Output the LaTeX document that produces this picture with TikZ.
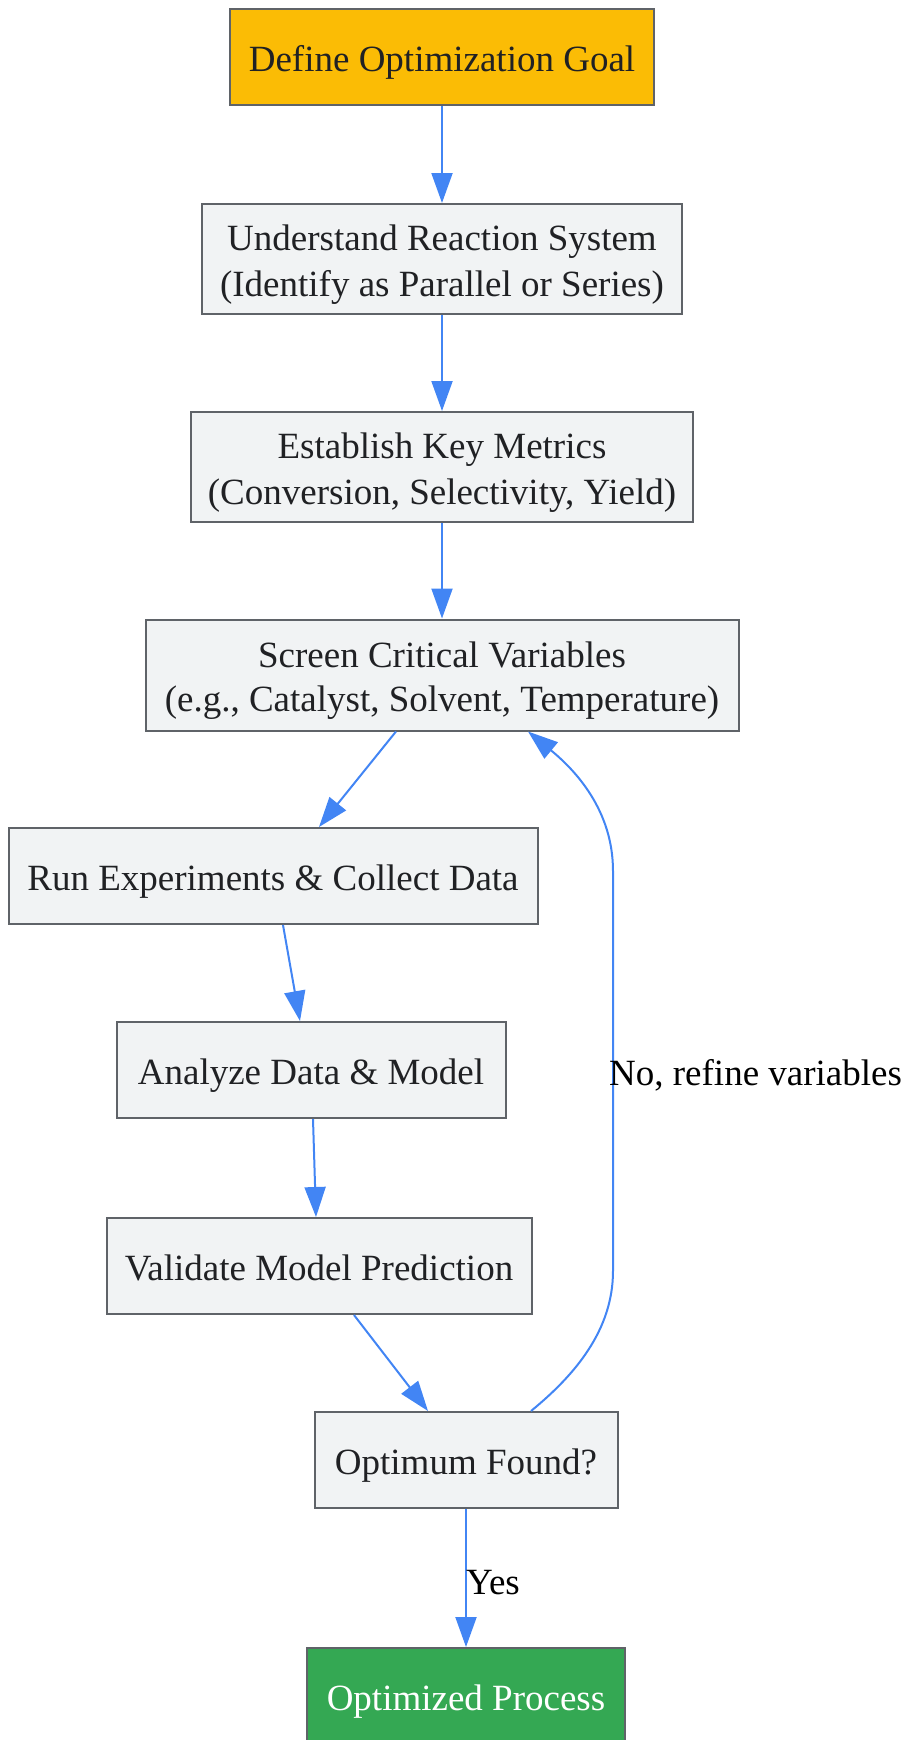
\documentclass[tikz,border=0pt]{standalone}
\usepackage{fontspec}
\setmainfont{Liberation Serif}
\usetikzlibrary{arrows.meta}
\definecolor{boxfill}{HTML}{F1F3F4}
\definecolor{boxborder}{HTML}{5F6368}
\definecolor{txtdark}{HTML}{202124}
\definecolor{goalfill}{HTML}{FBBC05}
\definecolor{donefill}{HTML}{34A853}
\definecolor{arrowblue}{HTML}{4285F4}
\newcommand{\lstrut}{\rule[-7.7pt]{0pt}{44.4pt}}
\tikzset{
  box/.style={draw=boxborder, line width=2pt, fill=boxfill, text=txtdark,
    font=\fontsize{37}{44.4}\selectfont, align=center, inner sep=0pt, minimum height=96pt},
  goalbox/.style={box, fill=goalfill},
  donebox/.style={box, fill=donefill, text=white},
  flow/.style={draw=arrowblue, line width=2pt, -{Triangle[length=30pt,width=21pt]}},
  elabel/.style={font=\fontsize{37}{44.4}\selectfont, text=black, inner sep=0pt}
}
\begin{document}
\begin{tikzpicture}[x=1pt,y=-1pt]
\useasboundingbox (0,0) rectangle (908,1740);
\node[goalbox, minimum width=424pt] (goal) at (442,57) {\lstrut Define Optimization Goal};
\node[box, minimum width=480pt, minimum height=110pt] (under) at (442,259) {\lstrut Understand Reaction System\\\lstrut(Identify as Parallel or Series)};
\node[box, minimum width=502pt, minimum height=110pt] (metrics) at (442,467) {\lstrut Establish Key Metrics\\\lstrut(Conversion, Selectivity, Yield)};
\node[box, minimum width=593pt, minimum height=111pt] (screen) at (442,675) {\lstrut Screen Critical Variables\\\lstrut(e.g., Catalyst, Solvent, Temperature)};
\node[box, minimum width=529pt] (run) at (273,876) {\lstrut Run Experiments \& Collect Data};
\node[box, minimum width=389pt] (analyze) at (311,1070) {\lstrut Analyze Data \& Model};
\node[box, minimum width=425pt] (validate) at (319,1266) {\lstrut Validate Model Prediction};
\node[box, minimum width=303pt] (optimum) at (466,1460) {\lstrut Optimum Found?};
\node[donebox, minimum width=318pt] (done) at (466,1696) {\lstrut Optimized Process};

\draw[flow] (goal) -- (under);
\draw[flow] (under) -- (metrics);
\draw[flow] (metrics) -- (screen);
\draw[flow] ([xshift=-46pt]screen.south) -- ([xshift=46pt]run.north);
\draw[flow] ([xshift=10pt]run.south) -- ([xshift=-11pt]analyze.north);
\draw[flow] ([xshift=2pt]analyze.south) -- ([xshift=-3pt]validate.north);
\draw[flow] ([xshift=35pt]validate.south) -- ([xshift=-38pt]optimum.north);
\draw[flow] (optimum) -- (done) node[elabel, pos=0.5, anchor=west, xshift=-1pt, yshift=-2pt] (yes) {\lstrut Yes};
\coordinate (lb) at (613,1271);
\coordinate (lt) at (613,871);
\draw[flow] ([xshift=65pt]optimum.north) .. controls (575,1375) and (613,1330) .. (lb)
  -- (lt) .. controls (613,810) and (575,770) .. ([xshift=86pt]screen.south);
\node[elabel, anchor=west] (nolab) at (609,1071) {\lstrut No, refine variables};
\end{tikzpicture}
\end{document}
